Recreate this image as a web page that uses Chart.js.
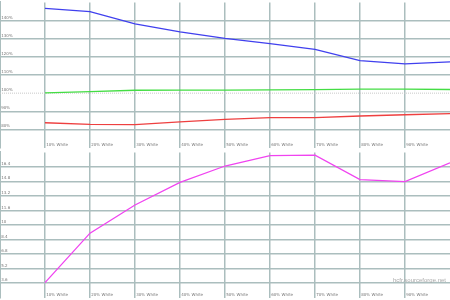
<!DOCTYPE html>
<html><head><meta charset="utf-8">
<script src="https://cdn.jsdelivr.net/npm/chart.js@4/dist/chart.umd.min.js"></script>
<style>
html,body{margin:0;padding:0;background:#fff;}
#wrap{position:relative;width:450px;height:300px;overflow:hidden;background:#fff;}
.panel{position:absolute;left:0;width:450px;height:150px;}
#wm{position:absolute;right:4px;top:277px;font:6px "Liberation Sans",Arial,sans-serif;color:#aaa;white-space:nowrap;}
</style></head><body>
<div id="wrap">
<div class="panel" style="top:0"><canvas id="topChart" width="450" height="150"></canvas></div>
<div class="panel" style="top:150px"><canvas id="botChart" width="450" height="150"></canvas></div>
<div id="wm">hcfr.sourceforge.net</div>
</div>
<script>
// ---- data ----
const levels = [10, 20, 30, 40, 50, 60, 70, 80, 90, 100];
const xTicks = [10, 20, 30, 40, 50, 60, 70, 80, 90];
const xRange = [0, 100];
const xLabelSuffix = '% White';

const redLevels   = [83.7, 82.8, 82.7, 84.2, 85.6, 86.5, 86.5, 87.4, 88.1, 88.7];
const greenLevels = [100.2, 100.8, 101.6, 101.7, 101.7, 101.8, 101.9, 102.2, 102.2, 102.0];
const blueLevels  = [146.7, 144.9, 138.2, 133.8, 130.2, 127.3, 124.1, 117.9, 116.1, 117.2];
const referenceLevel = 100;
const topRange = [70, 150];
const topYTicks = [80, 90, 100, 110, 120, 130, 140];

const deltaE = [3.65, 9.1, 12.2, 14.7, 16.5, 17.65, 17.7, 15.0, 14.77, 16.86];
const botRange = [2, 18];
const botYTicks = [3.6, 5.2, 6.8, 8.4, 10, 11.6, 13.2, 14.8, 16.4];
const botYLabels = ['3.6', '5.2', '6.8', '8.4', '10', '11.6', '13.2', '14.8', '16.4'];

// ---- styles ----
const gridColor = '#abbebe';
const tickColor = '#777';
const tickFont = {size: 4, family: 'DejaVu Sans'};

function pts(vals) { return levels.map((x, i) => ({x: x, y: vals[i]})); }

function makeOptions(range, yTicks, yLabel, hideGridAt) {
  return {
    responsive: false, animation: false, devicePixelRatio: 1,
    layout: {padding: 0},
    plugins: {legend: {display: false}, tooltip: {enabled: false}},
    elements: {point: {radius: 0}, line: {borderWidth: 1.3, tension: 0}},
    scales: {
      x: {
        type: 'linear', min: xRange[0], max: xRange[1],
        afterBuildTicks: s => { s.ticks = xTicks.map(v => ({value: v})); },
        ticks: {mirror: true, padding: 0, align: 'start', autoSkip: false, maxRotation: 0,
                color: tickColor, font: tickFont, callback: v => ' ' + v + xLabelSuffix},
        grid: {color: gridColor, lineWidth: 1.5, drawTicks: false},
        border: {display: false}
      },
      y: {
        type: 'linear', min: range[0], max: range[1],
        afterBuildTicks: s => { s.ticks = yTicks.map(v => ({value: v})); },
        ticks: {mirror: true, padding: 0, labelOffset: -3, autoSkip: false,
                color: tickColor, font: tickFont, callback: v => ' ' + yLabel(v)},
        grid: {color: c => (c.tick && c.tick.value === hideGridAt) ? 'rgba(0,0,0,0)' : gridColor,
               lineWidth: 1.5, drawTicks: false},
        border: {display: true, color: gridColor, width: 2}
      }
    }
  };
}

new Chart(document.getElementById('topChart'), {
  type: 'line',
  data: {datasets: [
    {data: pts(blueLevels), borderColor: '#4040ee', order: 1},
    {data: pts(greenLevels), borderColor: '#44dd44', order: 2},
    {data: pts(redLevels), borderColor: '#ee4040', order: 3},
    {data: xRange.map(x => ({x: x, y: referenceLevel})), borderColor: '#c8c8c8',
     borderWidth: 1, borderDash: [1, 1], order: 4}
  ]},
  options: makeOptions(topRange, topYTicks, v => v + '%', referenceLevel)
});

new Chart(document.getElementById('botChart'), {
  type: 'line',
  data: {datasets: [
    {data: pts(deltaE), borderColor: '#f044f0'}
  ]},
  options: makeOptions(botRange, botYTicks, v => botYLabels[botYTicks.indexOf(v)], null)
});
</script>
</body></html>
